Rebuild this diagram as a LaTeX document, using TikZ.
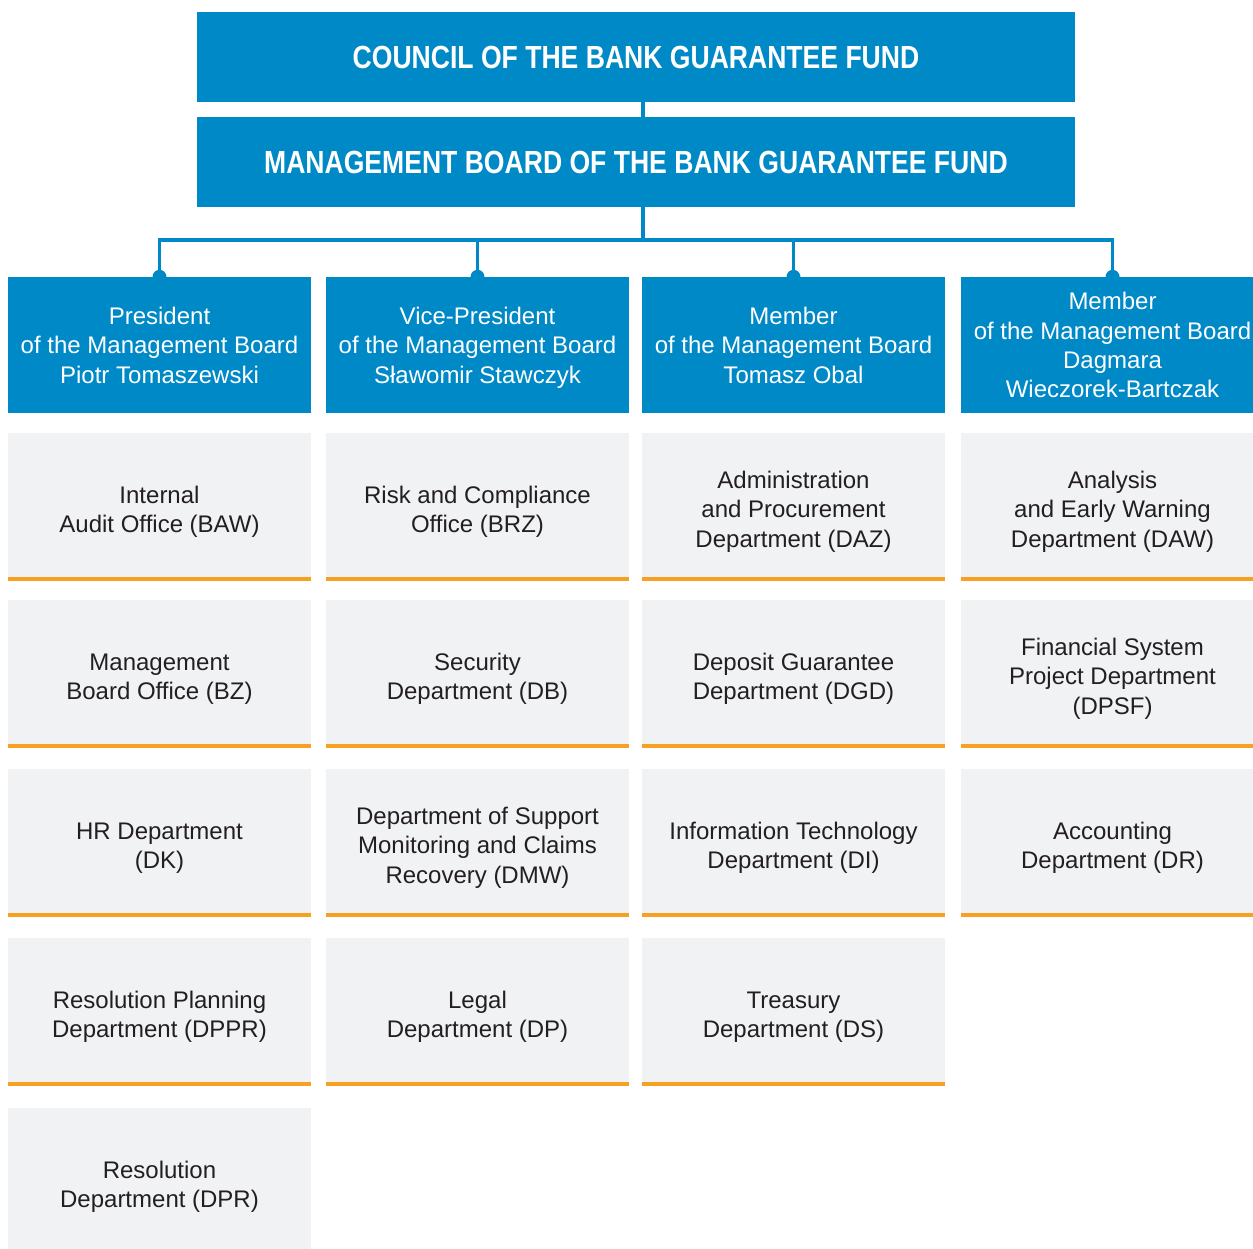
\documentclass[tikz,border=0pt]{standalone}
\usepackage{fontspec}
\setmainfont{Liberation Sans}
\newfontfamily\titlefont[FakeStretch=0.83]{Liberation Sans}

\definecolor{bgfblue}{RGB}{0,137,199}
\definecolor{deptgrey}{RGB}{241,242,244}
\definecolor{deptink}{RGB}{35,31,32}
\definecolor{accent}{RGB}{247,160,33}

% centred lines with a fixed pitch, hung from the first baseline
\newcommand{\lines}[1]{\begin{tabular}[t]{@{}c@{}}#1\end{tabular}}

\tikzset{
  boardbox/.style={fill=bgfblue, text=white, minimum width=878pt, minimum height=90pt,
    inner sep=0pt, font=\titlefont\bfseries\fontsize{32}{38}\selectfont},
  headbox/.style={fill=bgfblue, text=white, minimum width=303pt, minimum height=136pt,
    inner sep=0pt, font=\fontsize{24}{29.5}\selectfont, text height=26.35pt},
  deptbox/.style={fill=deptgrey, text=deptink, minimum width=303pt, minimum height=148pt,
    inner sep=0pt, font=\fontsize{24}{29.5}\selectfont, text height=30.35pt,
    path picture={\fill[accent] (path picture bounding box.south west)
      rectangle ([yshift=4pt]path picture bounding box.south east);}},
  link/.style={draw=bgfblue, line width=3.5pt},
  joint/.style={fill=bgfblue}
}

\begin{document}
\begin{tikzpicture}[x=1pt, y=-1pt]
  \clip (0,0) rectangle (1253,1249);
  \fill[white] (0,0) rectangle (1253,1249);

  % governing bodies
  \node[boardbox] (council) at (636,57) {COUNCIL OF THE BANK GUARANTEE FUND};
  \node[boardbox] (mgmt) at (636,162) {MANAGEMENT BOARD OF THE BANK GUARANTEE FUND};

  % board members
  \node[headbox] (h1) at (159.5,345) {\lines{President\\of the Management Board\\Piotr Tomaszewski}};
  \node[headbox] (h2) at (477.5,345) {\lines{Vice-President\\of the Management Board\\Sławomir Stawczyk}};
  \node[headbox] (h3) at (793.5,345) {\lines{Member\\of the Management Board\\Tomasz Obal}};
  \node[headbox] (h4) at (1112.5,345) {\lines{Member\\of the Management Board\\Dagmara\\Wieczorek-Bartczak}};

  % connectors
  \coordinate (bus) at (643,240);
  \draw[link] ([xshift=7pt]council.south) -- ([xshift=7pt]mgmt.north);
  \draw[link] ([xshift=7pt]mgmt.south) -- (bus);
  \draw[link] (h1.north) |- (bus) -| (h4.north);
  \draw[link] (h2.north) |- (bus);
  \draw[link] (h3.north) |- (bus);
  \foreach \h in {h1,h2,h3,h4} \fill[joint] (\h.north) circle (7pt);

  % column 1
  \node[deptbox] (d11) at (159.5,507) {\lines{Internal\\Audit Office (BAW)}};
  \node[deptbox] (d12) at (159.5,674) {\lines{Management\\Board Office (BZ)}};
  \node[deptbox] (d13) at (159.5,843) {\lines{HR Department\\(DK)}};
  \node[deptbox] (d14) at (159.5,1012) {\lines{Resolution Planning\\Department (DPPR)}};
  \node[deptbox] (d15) at (159.5,1182) {\lines{Resolution\\Department (DPR)}};

  % column 2
  \node[deptbox] (d21) at (477.5,507) {\lines{Risk and Compliance\\Office (BRZ)}};
  \node[deptbox] (d22) at (477.5,674) {\lines{Security\\Department (DB)}};
  \node[deptbox] (d23) at (477.5,843) {\lines{Department of Support\\Monitoring and Claims\\Recovery (DMW)}};
  \node[deptbox] (d24) at (477.5,1012) {\lines{Legal\\Department (DP)}};

  % column 3
  \node[deptbox] (d31) at (793.5,507) {\lines{Administration\\and Procurement\\Department (DAZ)}};
  \node[deptbox] (d32) at (793.5,674) {\lines{Deposit Guarantee\\Department (DGD)}};
  \node[deptbox] (d33) at (793.5,843) {\lines{Information Technology\\Department (DI)}};
  \node[deptbox] (d34) at (793.5,1012) {\lines{Treasury\\Department (DS)}};

  % column 4
  \node[deptbox] (d41) at (1112.5,507) {\lines{Analysis\\and Early Warning\\Department (DAW)}};
  \node[deptbox] (d42) at (1112.5,674) {\lines{Financial System\\Project Department\\(DPSF)}};
  \node[deptbox] (d43) at (1112.5,843) {\lines{Accounting\\Department (DR)}};
\end{tikzpicture}
\end{document}
